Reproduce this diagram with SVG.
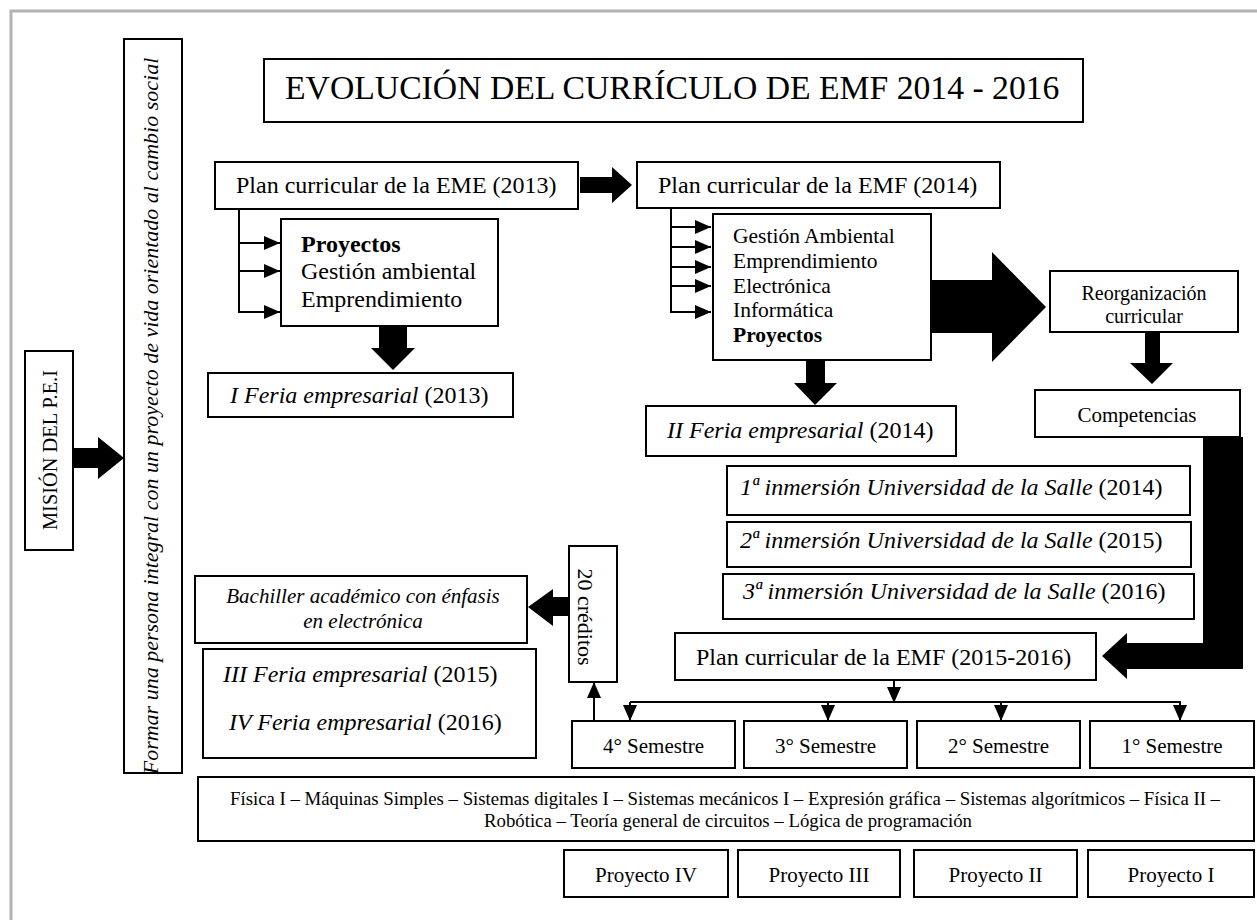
<svg xmlns="http://www.w3.org/2000/svg" width="1257" height="920" viewBox="0 0 1257 920">
<defs>
<style>
.box{fill:#fff;stroke:#000;stroke-width:2}
.t{font-family:"Liberation Serif","Times New Roman",serif;fill:#000}
.i{font-style:italic}
.b{font-weight:bold}
.blk{fill:#000;stroke:none}
.ln{stroke:#000;stroke-width:2;fill:none}
.frame{fill:none;stroke:#b3b3b3;stroke-width:3}
</style>
<marker id="ah" markerUnits="userSpaceOnUse" markerWidth="16" markerHeight="16" viewBox="0 0 16 16" refX="16" refY="8" orient="auto">
<path d="M0,1 L16,8 L0,15 z" fill="#000"/>
</marker>
</defs>
<rect width="1257" height="920" fill="#fff"/>
<rect class="frame" x="11" y="11" width="1270" height="940"/>

<g id="connectors">
<polygon class="blk" points="73,448 98,448 98,437 124,458 98,479 98,468 73,468"/>
<polygon class="blk" points="580,177 612,177 612,167 632,185 612,203 612,193 580,193"/>
<polygon class="blk" points="379,326 407,326 407,348 415,348 393,370 371,348 379,348"/>
<polygon class="blk" points="806,360 825,360 825,383 837,383 815,405 794,383 806,383"/>
<polygon class="blk" points="931,280 992,280 992,252 1046,307 992,362 992,333 931,333"/>
<polygon class="blk" points="1145,332 1160,332 1160,363 1173,363 1152,384 1130,363 1145,363"/>
<polygon class="blk" points="1203,437 1243,437 1243,669 1127,669 1127,679 1102,656 1127,633 1127,643 1203,643"/>
<polygon class="blk" points="569,597 553,597 553,589 528,607 553,626 553,616 569,616"/>
<path class="ln" d="M239,209 V312"/>
<line class="ln" x1="238" y1="243" x2="280" y2="243" marker-end="url(#ah)"/>
<line class="ln" x1="238" y1="271" x2="280" y2="271" marker-end="url(#ah)"/>
<line class="ln" x1="238" y1="312" x2="280" y2="312" marker-end="url(#ah)"/>
<path class="ln" d="M671,208 V312"/>
<line class="ln" x1="670" y1="227" x2="711" y2="227" marker-end="url(#ah)"/>
<line class="ln" x1="670" y1="247" x2="711" y2="247" marker-end="url(#ah)"/>
<line class="ln" x1="670" y1="267" x2="711" y2="267" marker-end="url(#ah)"/>
<line class="ln" x1="670" y1="286" x2="711" y2="286" marker-end="url(#ah)"/>
<line class="ln" x1="670" y1="312" x2="711" y2="312" marker-end="url(#ah)"/>
<line class="ln" x1="894" y1="680" x2="894" y2="703" marker-end="url(#ah)"/>
<path class="ln" d="M630,702 H1180"/>
<line class="ln" x1="630" y1="702" x2="630" y2="721" marker-end="url(#ah)"/>
<line class="ln" x1="828" y1="702" x2="828" y2="721" marker-end="url(#ah)"/>
<line class="ln" x1="1001" y1="702" x2="1001" y2="721" marker-end="url(#ah)"/>
<line class="ln" x1="1180" y1="701" x2="1180" y2="721" marker-end="url(#ah)"/>
<line class="ln" x1="594" y1="721" x2="594" y2="682" marker-end="url(#ah)"/>
</g>

<g id="mision">
<rect class="box" x="25" y="351" width="48" height="199"/>
<text class="t" transform="translate(57,450) rotate(-90)" text-anchor="middle" font-size="21" textLength="160" lengthAdjust="spacingAndGlyphs">MISIÓN DEL P.E.I</text>
</g>
<g id="formar">
<rect class="box" x="124" y="39" width="58" height="734"/>
<text class="t i" transform="translate(158,416) rotate(-90)" text-anchor="middle" font-size="22">Formar una persona integral con un proyecto de vida orientado al cambio social</text>
</g>
<g id="titulo">
<rect class="box" x="264" y="59" width="819" height="63"/>
<text class="t" x="285" y="99" font-size="33.7">EVOLUCIÓN DEL CURRÍCULO DE EMF 2014 - 2016</text>
</g>
<g id="plan-eme">
<rect class="box" x="215" y="162" width="363" height="47"/>
<text class="t" x="236" y="193" font-size="24">Plan curricular de la EME (2013)</text>
</g>
<g id="areas-eme">
<rect class="box" x="281" y="219" width="217" height="107"/>
<text class="t b" x="301" y="252" font-size="24">Proyectos</text>
<text class="t" x="301" y="279" font-size="24">Gestión ambiental</text>
<text class="t" x="301" y="307" font-size="24">Emprendimiento</text>
</g>
<g id="feria1">
<rect class="box" x="208" y="373" width="305" height="44"/>
<text class="t" x="230" y="403" font-size="24"><tspan class="i">I Feria empresarial</tspan> (2013)</text>
</g>
<g id="plan-emf">
<rect class="box" x="637" y="162" width="363" height="46"/>
<text class="t" x="658" y="193" font-size="24">Plan curricular de la EMF (2014)</text>
</g>
<g id="areas-emf">
<rect class="box" x="713" y="214" width="218" height="146"/>
<text class="t" x="733" y="243" font-size="21.5">Gestión Ambiental</text>
<text class="t" x="733" y="268" font-size="21.5">Emprendimiento</text>
<text class="t" x="733" y="293" font-size="21.5">Electrónica</text>
<text class="t" x="733" y="317" font-size="21.5">Informática</text>
<text class="t b" x="733" y="342" font-size="21.5">Proyectos</text>
</g>
<g id="feria2">
<rect class="box" x="646" y="406" width="310" height="50"/>
<text class="t" x="667" y="438" font-size="24"><tspan class="i">II Feria empresarial</tspan> (2014)</text>
</g>
<g id="reorganizacion">
<rect class="box" x="1050" y="271" width="188" height="61"/>
<text class="t" x="1144" y="300" font-size="20" text-anchor="middle">Reorganización</text>
<text class="t" x="1144" y="323" font-size="20" text-anchor="middle">curricular</text>
</g>
<g id="competencias">
<rect class="box" x="1035" y="390" width="205" height="47"/>
<text class="t" x="1137" y="422" font-size="21" text-anchor="middle">Competencias</text>
</g>
<g id="inmersion1">
<rect class="box" x="727" y="466" width="463" height="49"/>
<text class="t" x="740" y="495" font-size="24"><tspan class="i">1ª inmersión Universidad de la Salle</tspan> (2014)</text>
</g>
<g id="inmersion2">
<rect class="box" x="727" y="522" width="464" height="45"/>
<text class="t" x="740" y="548" font-size="24"><tspan class="i">2ª inmersión Universidad de la Salle</tspan> (2015)</text>
</g>
<g id="inmersion3">
<rect class="box" x="723" y="574" width="471" height="45"/>
<text class="t" x="743" y="599" font-size="24"><tspan class="i">3ª inmersión Universidad de la Salle</tspan> (2016)</text>
</g>
<g id="plan-2015">
<rect class="box" x="675" y="633" width="421" height="47"/>
<text class="t" x="696" y="665" font-size="24">Plan curricular de la EMF (2015-2016)</text>
</g>
<g id="creditos">
<rect class="box" x="569" y="546" width="48" height="136"/>
<text class="t" transform="translate(578,617) rotate(90)" text-anchor="middle" font-size="22">20 créditos</text>
</g>
<g id="bachiller">
<rect class="box" x="195" y="576" width="332" height="67"/>
<text class="t i" x="363" y="603" font-size="21" text-anchor="middle">Bachiller académico con énfasis</text>
<text class="t i" x="363" y="628" font-size="21" text-anchor="middle">en electrónica</text>
</g>
<g id="ferias34">
<rect class="box" x="203" y="649" width="333" height="109"/>
<text class="t" x="223" y="682" font-size="24"><tspan class="i">III Feria empresarial</tspan> (2015)</text>
<text class="t" x="229" y="730" font-size="24"><tspan class="i">IV Feria empresarial</tspan> (2016)</text>
</g>
<g id="sem4">
<rect class="box" x="572" y="721" width="163" height="47"/>
<text class="t" x="653.5" y="753" font-size="21" text-anchor="middle">4° Semestre</text>
</g>
<g id="sem3">
<rect class="box" x="744" y="721" width="163" height="47"/>
<text class="t" x="825.5" y="753" font-size="21" text-anchor="middle">3° Semestre</text>
</g>
<g id="sem2">
<rect class="box" x="917" y="721" width="163" height="47"/>
<text class="t" x="998.5" y="753" font-size="21" text-anchor="middle">2° Semestre</text>
</g>
<g id="sem1">
<rect class="box" x="1090" y="721" width="164" height="47"/>
<text class="t" x="1172" y="753" font-size="21" text-anchor="middle">1° Semestre</text>
</g>
<g id="asignaturas">
<rect class="box" x="198" y="777" width="1056" height="64"/>
<text class="t" x="725" y="805" font-size="18.8" text-anchor="middle">Física I – Máquinas Simples – Sistemas digitales I – Sistemas mecánicos I – Expresión gráfica – Sistemas algorítmicos – Física II –</text>
<text class="t" x="728" y="827" font-size="18.8" text-anchor="middle">Robótica – Teoría general de circuitos – Lógica de programación</text>
</g>
<g id="proy4">
<rect class="box" x="564" y="850" width="164" height="47"/>
<text class="t" x="646" y="882" font-size="21" text-anchor="middle">Proyecto IV</text>
</g>
<g id="proy3">
<rect class="box" x="738" y="850" width="162" height="47"/>
<text class="t" x="819" y="882" font-size="21" text-anchor="middle">Proyecto III</text>
</g>
<g id="proy2">
<rect class="box" x="914" y="850" width="163" height="47"/>
<text class="t" x="995.5" y="882" font-size="21" text-anchor="middle">Proyecto II</text>
</g>
<g id="proy1">
<rect class="box" x="1088" y="850" width="166" height="47"/>
<text class="t" x="1171" y="882" font-size="21" text-anchor="middle">Proyecto I</text>
</g>
</svg>
